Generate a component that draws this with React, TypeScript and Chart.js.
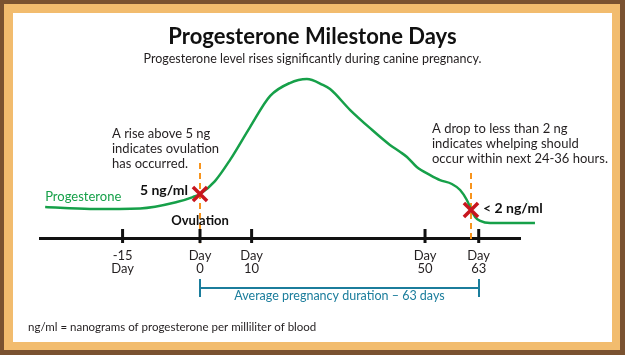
import { useEffect, useRef } from "react";
import { Chart, registerables } from "chart.js";

Chart.register(...registerables);

const FONT = "Lato, 'Open Sans', sans-serif";

// Schematic timeline: tick positions along the drawn axis, and their labels
const tickPositions = [-15, 0, 10, 43.6, 54];
const tickLabels = [
  ["-15", "Day"],
  ["Day", "0"],
  ["Day", "10"],
  ["Day", "50"],
  ["Day", "63"],
];

// Progesterone curve (schematic level, 0-100)
const curveX = [-30, -21.3, -11.6, -4.5, -1.4, 0, 2.9, 5.8, 9.7, 13.6, 17.4, 20.7, 23.8, 25.2, 29.1, 32.9, 36.8, 38.8, 40.1, 42.0, 44.6, 46.5, 48.8, 50.4, 51.7, 52.5, 53.3, 54.3, 56.2, 64.9];
const curveY = [18.0, 16.9, 17.2, 20.9, 23.8, 25.6, 33.1, 45.3, 64.5, 82.6, 90.1, 92.4, 89.0, 86.6, 74.4, 64.0, 54.1, 50.0, 47.1, 41.3, 36.6, 33.7, 31.4, 27.9, 22.1, 16.8, 12.2, 9.9, 8.7, 8.7];

// Milestone markers
const markerX = [0, 52.5];
const markerY = [25.6, 16.3];
const markerLabels = ["5 ng/ml", "< 2 ng/ml"];
// dashed guide extents (level units)
const guideTop = [43.6, 37.8];
const guideBottom = [-3, -1.2];

const titleText = "Progesterone Milestone Days";
const subtitleText = "Progesterone level rises significantly during canine pregnancy.";
const leftNote = ["A rise above 5 ng", "indicates ovulation", "has occurred."];
const rightNote = ["A drop to less than 2 ng", "indicates whelping should", "occur within next 24-36 hours."];
const seriesName = "Progesterone";
const ovulationText = "Ovulation";
const durationText = "Average pregnancy duration \u2013 63 days";
const footnote = "ng/ml = nanograms of progesterone per milliliter of blood";

const GREEN = "#16a049";
const ORANGE = "#f7941d";
const RED = "#c8161e";
const TEAL = "#1b7d9c";
const INK = "#231f20";

const decoPlugin = {
  id: "deco",
  beforeDraw(chart: any) {
    const ctx = chart.ctx;
    ctx.save();
    ctx.fillStyle = "#7a5230";
    ctx.fillRect(0, 0, 625, 355);
    ctx.fillStyle = "#f2bc6e";
    ctx.fillRect(4, 4, 616, 346);
    ctx.fillStyle = "#ffffff";
    ctx.fillRect(13, 13, 599, 329);
    ctx.restore();
  },
  beforeDatasetsDraw(chart: any) {
    const ctx = chart.ctx;
    const xs = chart.scales.x;
    const ys = chart.scales.y;
    ctx.save();
    // dashed guides
    ctx.strokeStyle = ORANGE;
    ctx.lineWidth = 2;
    ctx.setLineDash([6, 4]);
    markerX.forEach((mx, i) => {
      const px = Math.round(xs.getPixelForValue(mx));
      ctx.beginPath();
      ctx.moveTo(px, ys.getPixelForValue(guideTop[i]));
      ctx.lineTo(px, ys.getPixelForValue(guideBottom[i]));
      ctx.stroke();
    });
    ctx.setLineDash([]);
    // axis tick marks crossing the axis line
    const axisY = xs.top;
    ctx.strokeStyle = "#111";
    ctx.lineWidth = 3;
    tickPositions.forEach((t) => {
      const px = xs.getPixelForValue(t);
      ctx.beginPath();
      ctx.moveTo(px, axisY - 9);
      ctx.lineTo(px, axisY + 5);
      ctx.stroke();
    });
    ctx.restore();
  },
  afterDraw(chart: any) {
    const ctx = chart.ctx;
    const xs = chart.scales.x;
    const ys = chart.scales.y;
    const axisY = xs.top;
    ctx.save();
    ctx.textBaseline = "alphabetic";

    // title + subtitle
    ctx.fillStyle = "#111";
    ctx.textAlign = "center";
    ctx.font = `bold 22px ${FONT}`;
    ctx.fillText(titleText, 312.5, 43.5);
    ctx.fillStyle = INK;
    ctx.font = `12.5px ${FONT}`;
    ctx.fillText(subtitleText, 312.5, 63);

    // notes
    ctx.textAlign = "left";
    ctx.font = `13px ${FONT}`;
    leftNote.forEach((l, i) => ctx.fillText(l, 112, 137.5 + i * 15.3));
    rightNote.forEach((l, i) => ctx.fillText(l, 432, 132.5 + i * 15.3));

    // series label
    ctx.fillStyle = GREEN;
    ctx.fillText(seriesName, xs.getPixelForValue(curveX[0]), ys.getPixelForValue(curveY[0]) - 6);

    // marker labels
    ctx.fillStyle = "#111";
    ctx.font = `bold 14px ${FONT}`;
    ctx.textAlign = "right";
    ctx.fillText(markerLabels[0], xs.getPixelForValue(markerX[0]) - 12, ys.getPixelForValue(markerY[0]) + 1);
    ctx.textAlign = "left";
    ctx.fillText(markerLabels[1], xs.getPixelForValue(markerX[1]) + 12, ys.getPixelForValue(markerY[1]) + 3);

    // ovulation label
    ctx.font = `bold 13px ${FONT}`;
    ctx.textAlign = "center";
    ctx.fillText(ovulationText, xs.getPixelForValue(0), axisY - 13);

    // duration bracket (day 0 to day 63)
    const bx0 = Math.round(xs.getPixelForValue(tickPositions[1]));
    const bx1 = Math.round(xs.getPixelForValue(tickPositions[4]));
    ctx.strokeStyle = TEAL;
    ctx.lineWidth = 2;
    ctx.beginPath();
    ctx.moveTo(bx0, 279);
    ctx.lineTo(bx0, 297);
    ctx.moveTo(bx0, 288);
    ctx.lineTo(bx1, 288);
    ctx.moveTo(bx1, 279);
    ctx.lineTo(bx1, 297);
    ctx.stroke();
    ctx.fillStyle = TEAL;
    ctx.font = `12.5px ${FONT}`;
    ctx.fillText(durationText, (bx0 + bx1) / 2, 300);

    // footnote
    ctx.fillStyle = INK;
    ctx.textAlign = "left";
    ctx.font = `11.5px ${FONT}`;
    ctx.fillText(footnote, 28, 330.5);
    ctx.restore();
  },
};

export default function App() {
  const ref = useRef<HTMLCanvasElement | null>(null);
  useEffect(() => {
    if (!ref.current) return;
    const chart = new Chart(ref.current, {
      type: "line",
      data: {
        datasets: [
          {
            type: "scatter",
            label: "Milestones",
            data: markerX.map((x, i) => ({ x, y: markerY[i] })),
            pointStyle: "crossRot",
            pointRadius: 10,
            pointBorderWidth: 3.5,
            borderColor: RED,
            backgroundColor: RED,
            showLine: false,
            order: 0,
            clip: false,
          } as any,
          {
            type: "line",
            label: seriesName,
            data: curveX.map((x, i) => ({ x, y: curveY[i] })),
            borderColor: GREEN,
            borderWidth: 2.5,
            pointRadius: 0,
            cubicInterpolationMode: "monotone",
            fill: false,
            order: 1,
            clip: false,
          } as any,
        ],
      },
      options: {
        responsive: false,
        animation: false,
        devicePixelRatio: 1,
        events: [],
        layout: { padding: { top: 66, left: 40, right: 105, bottom: 67 } },
        plugins: {
          legend: { display: false },
          tooltip: { enabled: false },
          title: { display: false },
        },
        scales: {
          x: {
            type: "linear",
            min: -31,
            max: 62,
            afterBuildTicks: (axis: any) => {
              axis.ticks = tickPositions.map((v) => ({ value: v }));
            },
            afterFit: (axis: any) => {
              axis.height = 50;
            },
            grid: { display: true, drawOnChartArea: false, drawTicks: false },
            border: { display: true, color: "#111", width: 3 },
            ticks: {
              autoSkip: false,
              maxRotation: 0,
              minRotation: 0,
              padding: 11,
              color: INK,
              font: { family: FONT, size: 13, lineHeight: 1.0 },
              callback: (_v: any, i: number) => tickLabels[i],
            },
          },
          y: { type: "linear", min: 0, max: 100, display: false },
        },
      },
      plugins: [decoPlugin],
    });
    return () => chart.destroy();
  }, []);
  return (
    <div style={{ position: "absolute", left: 0, top: 0, width: 625, height: 355 }}>
      <canvas ref={ref} width={625} height={355} />
    </div>
  );
}
